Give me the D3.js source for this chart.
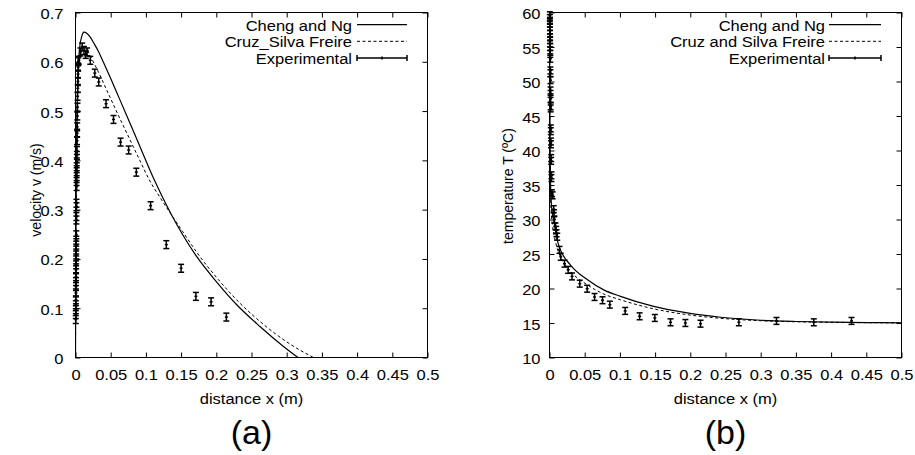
<!DOCTYPE html>
<html>
<head>
<meta charset="utf-8">
<script src="https://cdn.jsdelivr.net/npm/d3@7"></script>
<style>
  body { margin: 0; background: #fff; }
  text { font-family: "Liberation Sans", Arial, Helvetica, sans-serif; fill: #000; }
</style>
</head>
<body>
<svg id="chart" width="915" height="455"></svg>
<script>
// ---------- (a) velocity profile ----------
const chengVelX = [0, 0.0003, 0.0008, 0.0015, 0.0025, 0.004, 0.006, 0.009, 0.012, 0.016, 0.021, 0.026, 0.033, 0.04, 0.05, 0.06, 0.073, 0.09, 0.111, 0.135, 0.151, 0.172, 0.2, 0.229, 0.262, 0.295, 0.316];
const chengVel  = [0, 0.15, 0.30, 0.42, 0.52, 0.59, 0.63, 0.652, 0.66, 0.658, 0.65, 0.638, 0.62, 0.598, 0.566, 0.533, 0.49, 0.433, 0.363, 0.293, 0.252, 0.205, 0.154, 0.107, 0.063, 0.023, 0];

const cruzVelX = [0, 0.0003, 0.0008, 0.0015, 0.0025, 0.004, 0.006, 0.008, 0.011, 0.015, 0.02, 0.026, 0.033, 0.04, 0.05, 0.06, 0.073, 0.09, 0.105, 0.12, 0.135, 0.152, 0.174, 0.203, 0.233, 0.268, 0.305, 0.338];
const cruzVel  = [0, 0.14, 0.28, 0.40, 0.50, 0.57, 0.61, 0.626, 0.632, 0.628, 0.615, 0.598, 0.578, 0.556, 0.525, 0.494, 0.455, 0.404, 0.36, 0.325, 0.292, 0.256, 0.21, 0.158, 0.111, 0.066, 0.027, 0];

const expVelX = [0.0004, 0.0004, 0.0005, 0.0005, 0.0006, 0.0006, 0.0007, 0.0007, 0.0008, 0.0008, 0.0009, 0.0009, 0.001, 0.001, 0.0011, 0.0011, 0.0012, 0.0013, 0.0013, 0.0014, 0.0014, 0.0016, 0.0016, 0.0017, 0.0017, 0.0018, 0.0018, 0.002, 0.002, 0.0022, 0.0023, 0.0024, 0.0026, 0.0028, 0.003, 0.0032, 0.0034, 0.0036, 0.0038, 0.004,
                 0.0047, 0.007, 0.0095, 0.012, 0.0145, 0.0165, 0.021, 0.0274, 0.033, 0.0434, 0.054, 0.064, 0.0755, 0.0864, 0.1067, 0.129, 0.150, 0.171, 0.1926, 0.2143];
const expVel  = [0.077, 0.087, 0.097, 0.107, 0.117, 0.131, 0.144, 0.154, 0.164, 0.178, 0.188, 0.198, 0.208, 0.218, 0.228, 0.238, 0.249, 0.279, 0.286, 0.306, 0.313, 0.347, 0.357, 0.367, 0.377, 0.387, 0.397, 0.41, 0.42, 0.44, 0.455, 0.468, 0.49, 0.508, 0.53, 0.546, 0.56, 0.575, 0.589, 0.60,
                 0.603, 0.62, 0.63, 0.623, 0.615, 0.62, 0.603, 0.577, 0.559, 0.515, 0.483, 0.437, 0.421, 0.376, 0.308, 0.229, 0.181, 0.124, 0.113, 0.082];
const expVelErr = 0.008;

const velXTicks = [0, 0.05, 0.1, 0.15, 0.2, 0.25, 0.3, 0.35, 0.4, 0.45, 0.5];
const velYTicks = [0, 0.1, 0.2, 0.3, 0.4, 0.5, 0.6, 0.7];

// ---------- (b) temperature profile ----------
const chengTempX = [0, 0.0003, 0.0007, 0.0014, 0.0025, 0.004, 0.006, 0.011, 0.0156, 0.0298, 0.0535, 0.0771, 0.1009, 0.148, 0.1956, 0.243, 0.3, 0.35, 0.4, 0.45, 0.5];
const chengTemp  = [60, 50, 42, 35.7, 32.5, 31, 29.9, 27, 25.6, 23.4, 21.3, 19.8, 18.86, 17.4, 16.46, 15.83, 15.4, 15.22, 15.12, 15.06, 15.03];

const cruzTempX = [0, 0.0003, 0.0007, 0.0014, 0.0025, 0.004, 0.006, 0.011, 0.0156, 0.0298, 0.0535, 0.0771, 0.1009, 0.148, 0.1956, 0.243, 0.3, 0.35, 0.4, 0.45, 0.5];
const cruzTemp  = [60, 48, 40, 34, 31, 29.3, 28.0, 25.8, 24.6, 22.5, 20.55, 19.2, 18.36, 17.05, 16.21, 15.68, 15.33, 15.18, 15.1, 15.05, 15.02];

const expTempX = [0.0005, 0.0005, 0.0006, 0.0006, 0.0007, 0.0007, 0.0008, 0.0008, 0.0009, 0.0009, 0.001, 0.001, 0.0011, 0.0012, 0.0013, 0.0013, 0.0014, 0.0015, 0.0015, 0.0016, 0.0017, 0.0017, 0.0019, 0.0019, 0.0021, 0.0021, 0.0024, 0.0024, 0.0028, 0.0028, 0.0035, 0.0045,
                  0.006, 0.0065, 0.007, 0.0085, 0.0095, 0.010, 0.011, 0.0142, 0.016, 0.0213, 0.0265, 0.032, 0.043, 0.0535, 0.064, 0.0753, 0.0857, 0.1075, 0.128, 0.1496, 0.1719, 0.193, 0.2145, 0.269, 0.3224, 0.3754, 0.429];
const expTemp  = [59.6, 59.2, 58.8, 58.4, 57.9, 57.4, 56.9, 56.4, 56.0, 55.5, 55.0, 54.5, 54.0, 53.3, 51.6, 51.2, 50.2, 48.7, 48.2, 47.5, 46.4, 46.1, 43.2, 42.8, 41.3, 40.9, 38.9, 38.5, 36.4, 36.0, 33.8, 33.5,
                  31.5, 30.9, 30.0, 29.0, 28.5, 28.0, 27.5, 25.6, 24.6, 23.6, 22.7, 21.75, 20.7, 19.97, 18.77, 18.3, 17.66, 16.75, 15.97, 15.73, 15.1, 15.0, 14.9, 15.1, 15.3, 15.1, 15.3];
const expTempErr = 0.5;

const tempXTicks = [0, 0.05, 0.1, 0.15, 0.2, 0.25, 0.3, 0.35, 0.4, 0.45, 0.5];
const tempYTicks = [10, 15, 20, 25, 30, 35, 40, 45, 50, 55, 60];

const legendLabelsA = ["Cheng and Ng", "Cruz_Silva Freire", "Experimental"];
const legendLabelsB = ["Cheng and Ng", "Cruz and Silva Freire", "Experimental"];

// ---------- drawing ----------
const svg = d3.select("#chart");
const FONT = 15;    // base text size
const SX = 1.1;     // horizontal text stretch

function zip(xs, ys) { return xs.map((x, i) => [x, ys[i]]); }

function wideText(parent, x, y, str, size, anchor, sx = SX) {
  return parent.append("text")
    .attr("transform", `translate(${x},${y}) scale(${sx},1)`)
    .attr("text-anchor", anchor)
    .attr("font-size", size)
    .text(str);
}

function drawPanel(p) {
  const g = svg.append("g");
  const x = d3.scaleLinear().domain([0, 0.5]).range([p.left, p.right]);
  const y = d3.scaleLinear().domain(p.yDomain).range([p.bottom, p.top]);

  const styleAxis = ax => {
    ax.select(".domain").remove();
    ax.attr("font-family", null).attr("font-size", null);
    ax.selectAll(".tick line").attr("stroke", "#000");
  };

  // bottom axis with labels, inward ticks
  g.append("g").attr("transform", `translate(0,${p.bottom})`)
    .call(d3.axisBottom(x).tickValues(p.xTicks).tickSizeInner(-5).tickSizeOuter(0)
      .tickPadding(12).tickFormat(d => String(d)))
    .call(styleAxis)
    .call(ax => ax.selectAll("text").attr("font-size", FONT).attr("transform", `scale(${SX},1)`));

  // left axis with labels
  g.append("g").attr("transform", `translate(${p.left},0)`)
    .call(d3.axisLeft(y).tickValues(p.yTicks).tickSizeInner(-5).tickSizeOuter(0)
      .tickFormat(d => String(d)))
    .call(styleAxis)
    .call(ax => ax.selectAll("text").attr("font-size", FONT)
      .attr("x", -p.labelGap / SX).attr("dy", "0.4em")
      .attr("transform", `scale(${SX},1)`));

  // mirrored ticks on top and right
  g.append("g").attr("transform", `translate(0,${p.top})`)
    .call(d3.axisTop(x).tickValues(p.xTicks).tickSizeInner(-5).tickSizeOuter(0).tickFormat(""))
    .call(styleAxis);
  g.append("g").attr("transform", `translate(${p.right},0)`)
    .call(d3.axisRight(y).tickValues(p.yTicks).tickSizeInner(-5).tickSizeOuter(0).tickFormat(""))
    .call(styleAxis);

  // frame
  g.append("rect")
    .attr("x", p.left).attr("y", p.top)
    .attr("width", p.right - p.left).attr("height", p.bottom - p.top)
    .attr("fill", "none").attr("stroke", "#000").attr("stroke-width", 1);

  const clipId = "clip" + p.id;
  svg.append("clipPath").attr("id", clipId).append("rect")
    .attr("x", p.left).attr("y", p.top - 1)
    .attr("width", p.right - p.left).attr("height", p.bottom - p.top + 1);

  const plot = g.append("g").attr("clip-path", `url(#${clipId})`);
  const line = d3.line().x(d => x(d[0])).y(d => y(d[1])).curve(d3.curveMonotoneX);

  // model curves
  plot.append("path").datum(zip(p.chengX, p.chengY))
    .attr("d", line).attr("fill", "none").attr("stroke", "#000").attr("stroke-width", 1.2);
  plot.append("path").datum(zip(p.cruzX, p.cruzY))
    .attr("d", line).attr("fill", "none").attr("stroke", "#000").attr("stroke-width", 1)
    .attr("stroke-dasharray", "3,2.5");

  // experimental points with error bars
  const bars = g.append("g").attr("stroke", "#000").attr("stroke-width", 1.5)
    .selectAll("g").data(zip(p.expX, p.expY)).join("g");
  bars.append("line")
    .attr("x1", d => x(d[0])).attr("x2", d => x(d[0]))
    .attr("y1", d => y(d[1] - p.err)).attr("y2", d => y(d[1] + p.err));
  bars.append("line")
    .attr("x1", d => x(d[0]) - 3).attr("x2", d => x(d[0]) + 3)
    .attr("y1", d => y(d[1] - p.err)).attr("y2", d => y(d[1] - p.err));
  bars.append("line")
    .attr("x1", d => x(d[0]) - 3).attr("x2", d => x(d[0]) + 3)
    .attr("y1", d => y(d[1] + p.err)).attr("y2", d => y(d[1] + p.err));
  bars.append("line")
    .attr("x1", d => x(d[0]) - 1.5).attr("x2", d => x(d[0]) + 1.5)
    .attr("y1", d => y(d[1])).attr("y2", d => y(d[1]));

  // legend
  const lg = g.append("g");
  const rowBase = [30.7, 47.3, 64];
  p.legend.forEach((lab, i) => {
    wideText(lg, p.legTextX, rowBase[i], lab, FONT, "end");
    const ly = rowBase[i] - 6;
    const s = lg.append("g").attr("stroke", "#000");
    if (i === 0) {
      s.append("line").attr("x1", p.legX1).attr("x2", p.legX2).attr("y1", ly).attr("y2", ly).attr("stroke-width", 1.2);
    } else if (i === 1) {
      s.append("line").attr("x1", p.legX1).attr("x2", p.legX2).attr("y1", ly).attr("y2", ly)
        .attr("stroke-width", 1).attr("stroke-dasharray", "3,2.5");
    } else {
      s.attr("stroke-width", 1.5);
      s.append("line").attr("x1", p.legX1).attr("x2", p.legX2).attr("y1", ly).attr("y2", ly);
      s.append("line").attr("x1", p.legX1).attr("x2", p.legX1).attr("y1", ly - 3).attr("y2", ly + 3);
      s.append("line").attr("x1", p.legX2).attr("x2", p.legX2).attr("y1", ly - 3).attr("y2", ly + 3);
      const mx = (p.legX1 + p.legX2) / 2;
      s.append("line").attr("x1", mx).attr("x2", mx).attr("y1", ly - 1.5).attr("y2", ly + 1.5);
    }
  });

  // axis titles and panel tag
  const cx = (p.left + p.right) / 2;
  wideText(g, cx, 403.5, "distance x (m)", FONT, "middle");
  wideText(g, cx, 444, p.tag, 34, "middle", 1);
  g.append("text")
    .attr("transform", `translate(${p.yTitleX},${p.yTitleY}) scale(${SX},1) rotate(-90)`)
    .attr("text-anchor", "middle").attr("font-size", 14)
    .text(p.yTitle);
}

drawPanel({
  id: "a", left: 75.5, right: 427.5, top: 12.5, bottom: 357.5,
  yDomain: [0, 0.7], xTicks: velXTicks, yTicks: velYTicks, labelGap: 12,
  chengX: chengVelX, chengY: chengVel, cruzX: cruzVelX, cruzY: cruzVel,
  expX: expVelX, expY: expVel, err: expVelErr,
  legend: legendLabelsA, legTextX: 352, legX1: 357, legX2: 407,
  yTitle: "velocity v (m/s)", yTitleX: 40.5, yTitleY: 190, tag: "(a)"
});

drawPanel({
  id: "b", left: 549.5, right: 901.5, top: 12.5, bottom: 357.5,
  yDomain: [10, 60], xTicks: tempXTicks, yTicks: tempYTicks, labelGap: 9,
  chengX: chengTempX, chengY: chengTemp, cruzX: cruzTempX, cruzY: cruzTemp,
  expX: expTempX, expY: expTemp, err: expTempErr,
  legend: legendLabelsB, legTextX: 825, legX1: 829, legX2: 881,
  yTitle: "temperature T (ºC)", yTitleX: 512.5, yTitleY: 186, tag: "(b)"
});
</script>
</body>
</html>
